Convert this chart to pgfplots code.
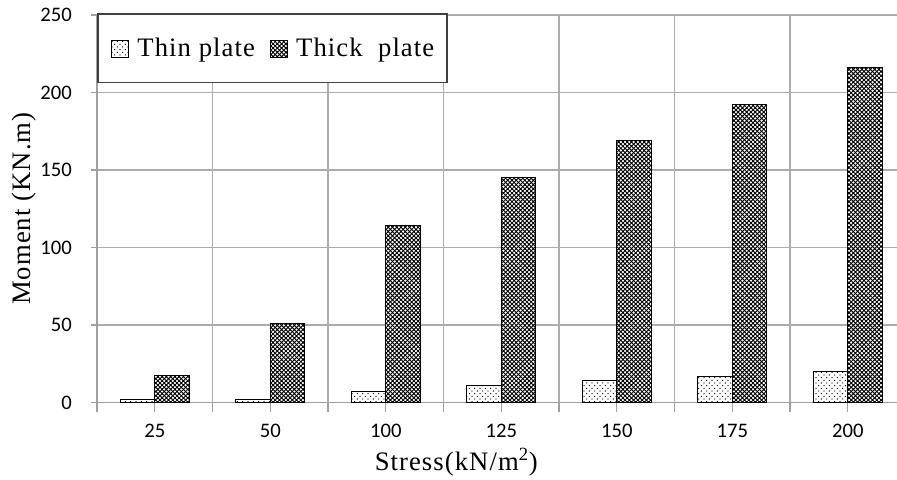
\documentclass[border=0pt]{standalone}
\usepackage{fontspec}
\setmainfont{Liberation Serif}
\newfontfamily\tickfont{Carlito}
\usepackage{pgfplots}
\pgfplotsset{compat=1.18}
\usetikzlibrary{patterns}

\pgfdeclarepatternformonly{sparsedots}{\pgfqpoint{-0.6pt}{-0.6pt}}{\pgfqpoint{3.4pt}{3.4pt}}{\pgfqpoint{4pt}{4pt}}{%
  \pgfpathcircle{\pgfqpoint{0pt}{0pt}}{0.5pt}%
  \pgfpathcircle{\pgfqpoint{2pt}{2pt}}{0.5pt}%
  \pgfusepath{fill}}
\pgfdeclarepatternformonly{xhatch}{\pgfqpoint{-0.5pt}{-0.5pt}}{\pgfqpoint{3.7pt}{3.7pt}}{\pgfqpoint{3.2pt}{3.2pt}}{%
  \pgfsetlinewidth{0.65pt}%
  \pgfpathmoveto{\pgfqpoint{-0.5pt}{-0.5pt}}\pgfpathlineto{\pgfqpoint{3.7pt}{3.7pt}}%
  \pgfpathmoveto{\pgfqpoint{-0.5pt}{3.7pt}}\pgfpathlineto{\pgfqpoint{3.7pt}{-0.5pt}}%
  \pgfusepath{stroke}}

\newcommand\tickf{\tickfont\fontsize{15.5}{18}\selectfont}
\newcommand\labf{\fontsize{20}{24}\selectfont\addfontfeature{LetterSpace=4}}

\pgfplotsset{sqlegend/.style={legend image code/.code={\draw[##1] (0pt,-7pt) rectangle (12.75pt,6pt);}}}

\begin{document}
\begin{tikzpicture}
\begin{axis}[
  scale only axis, width=600pt, height=290.6pt,
  xmin=-0.5, xmax=6.426, ymin=0, ymax=250,
  ybar, bar width=0.3,
  xtick={-0.5,0.5,...,5.5}, xticklabels={},
  extra x ticks={0,1,2,3,4,5,6},
  extra x tick labels={25,50,100,125,150,175,200},
  extra x tick style={grid=none, major tick length=0pt},
  ytick={0,50,...,250},
  axis x line*=bottom, axis y line*=left,
  axis line style={-, gray!75, line width=1pt},
  xmajorgrids, ymajorgrids,
  grid style={gray!65, line width=1pt},
  tick align=outside,
  major tick length=4.5pt,
  xtick style={gray!75, line width=1pt, /pgfplots/major tick length=7.5pt},
  ytick style={gray!75, line width=1pt},
  /pgf/number format/assume math mode=true,
  x tick label style={font=\tickf, anchor=center, yshift=-21pt},
  y tick label style={font=\tickf, anchor=east, inner sep=0pt, xshift=-14.25pt},
  every axis y label/.style={at={(axis description cs:-0.09125,0.5)}, rotate=90, anchor=center, font=\labf},
  every axis x label/.style={at={(axis description cs:0.449,-0.1535)}, anchor=center, font=\labf},
  ylabel={Moment (KN.m)},
  xlabel={Stress(kN/m\textsuperscript{2})},
  legend columns=2,
  legend style={at={(axis description cs:0,1)}, anchor=north west,
    draw=black!75, line width=1.2pt, fill=white, font=\labf,
    inner xsep=9.75pt, inner ysep=18pt, yshift=1.5pt,
    nodes={inner sep=0pt},
    /tikz/every odd column/.style={column sep=6.5pt},
    /tikz/every even column/.style={column sep=11pt}},
]
\addplot[fill=white, draw=black, line width=0.75pt, postaction={pattern=sparsedots}, bar shift=-0.15, sqlegend]
  coordinates {(0,2) (1,2) (2,7) (3,11) (4,14) (5,17) (6,20)};
\addplot[fill=white, draw=black, line width=0.75pt, postaction={pattern=xhatch}, bar shift=0.15, sqlegend]
  coordinates {(0,17.5) (1,51) (2,114) (3,145) (4,169) (5,192) (6,216)};
\legend{Thin plate, Thick\ \ plate}
\end{axis}
\pgfresetboundingbox
\path (-72.75pt,-57.4pt) rectangle (600pt,301.85pt);
\end{tikzpicture}
\end{document}
